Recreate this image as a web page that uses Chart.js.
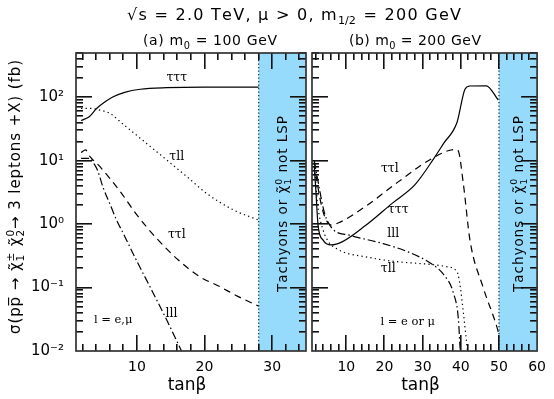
<!DOCTYPE html>
<html><head><meta charset="utf-8">
<script src="https://cdn.jsdelivr.net/npm/chart.js@4.4.0/dist/chart.umd.min.js"></script>
<style>
html,body{margin:0;padding:0;background:#fff;}
#wrap{position:relative;width:554px;height:399px;background:#fff;}
canvas{position:absolute;left:0;top:0;}
</style></head><body>
<div id="wrap"><canvas id="ca" width="554" height="399"></canvas><canvas id="cb" width="554" height="399"></canvas></div>
<script>
// ---- axes / ticks ----
const yTicks = [0.01, 0.1, 1, 10, 100];
const yTickLabels = ['10\u207B\u00B2', '10\u207B\u00B9', '10\u2070', '10\u00B9', '10\u00B2'];
const yRange = [0.01, 500];
const xRangeA = [1, 35];
const xRangeB = [1, 60];
const xTicksA = [10, 20, 30];
const xTicksB = [10, 20, 30, 40, 50, 60];
const xMinorStep = 2;
const forbiddenA = [28, 35];
const forbiddenB = [50, 60];

// ---- panel (a) m0 = 100 GeV ----
const tttA_x = [1.75, 3, 4, 5.3, 6.5, 8.2, 10.5, 14.4, 20, 28];
const tttA_y = [43, 50, 66, 85, 102, 120, 134, 142, 145, 145];
const tllA_x = [1.75, 3, 4.5, 6, 8, 10, 12, 14.4, 17.4, 20.3, 24.3, 28];
const tllA_y = [67, 67, 63, 56, 37.4, 25, 16.7, 10.3, 5.6, 3.06, 1.67, 1.16];
const ttlA_x = [1.75, 2.4, 3.07, 4.55, 7.5, 10, 12.9, 16, 19.3, 22, 25, 28];
const ttlA_y = [13.5, 14.8, 11.6, 8.05, 3.3, 1.4, 0.6, 0.28, 0.148, 0.107, 0.072, 0.051];
const lllA_x = [1.75, 3.1, 3.6, 4.2, 5, 6, 7, 8, 10, 12, 14.4, 16.7];
const lllA_y = [10.9, 10.9, 9.2, 7.0, 3.8, 2.1, 1.16, 0.71, 0.26, 0.1, 0.031, 0.0095];

// ---- panel (b) m0 = 200 GeV ----
const tttB_x = [1.6, 2.0, 2.6, 3.9, 6, 9, 15, 22, 28, 33, 35.5, 39, 41.1, 42.4, 46.7, 49.8];
const tttB_y = [8, 3.5, 0.95, 0.56, 0.47, 0.53, 0.95, 2.13, 4.2, 11, 18.8, 40, 134, 151, 152, 91];
const tllB_x = [1.6, 2.5, 3.9, 5.6, 7.3, 10, 15, 19.3, 23.6, 28.7, 32, 36, 38.6, 39.3, 39.9, 40.7, 41.8];
const tllB_y = [9, 2.0, 0.81, 0.5, 0.416, 0.35, 0.306, 0.275, 0.255, 0.241, 0.232, 0.215, 0.19, 0.16, 0.1, 0.039, 0.0095];
const ttlB_x = [1.6, 2.5, 4, 6, 8, 15, 23.5, 32.5, 38.6, 39.3, 40.7, 42.4, 45.8, 49.7, 50];
const ttlB_y = [9.5, 4, 1.5, 0.97, 1.05, 1.9, 4.6, 10.9, 15.1, 14.5, 4.2, 0.56, 0.103, 0.0214, 0.018];
const lllB_x = [1.6, 2.6, 4.3, 6.5, 10.75, 19.3, 26.1, 32.1, 35.6, 38.1, 39.4, 39.8, 40];
const lllB_y = [10, 4.67, 1.48, 0.83, 0.67, 0.5, 0.367, 0.241, 0.158, 0.081, 0.0306, 0.0115, 0.009];

// ---- curve labels (data coords) ----
const labelsA = [['τττ', 15.9, 200], ['τll', 15.9, 11.6], ['ττl', 15.9, 0.67], ['lll', 15.1, 0.039]];
const labelsB = [['ττl', 21.4, 7.6], ['τττ', 23.6, 1.67], ['lll', 22.3, 0.716], ['τll', 21.0, 0.2]];
const noteA = ['l = e,μ', 6.5, 0.031];
const noteB = ['l = e or μ', 26.1, 0.029];

const SANS = "'DejaVu Sans', sans-serif";
const SERIF = "'DejaVu Serif', serif";

function units(str) { return str.match(/\P{M}\p{M}*/gu) || []; }
// rich text centred at x (baseline y), optionally stretched to a target width
function drawRich(ctx, segs, x, y, size, fam, targetW) {
  const items = [];
  for (const s of segs) {
    if (s.t !== undefined) {
      const f = size + 'px ' + fam;
      ctx.font = f;
      for (const u of units(s.t)) items.push({ u, f, w: ctx.measureText(u).width });
    } else {
      const f = (size * 0.7) + 'px ' + fam;
      ctx.font = f;
      const wa = s.sub ? ctx.measureText(s.sub).width : 0;
      const wb = s.sup ? ctx.measureText(s.sup).width : 0;
      items.push({ sub: s.sub, sup: s.sup, f, w: Math.max(wa, wb) });
    }
  }
  const nat = items.reduce((a, b) => a + b.w, 0);
  const ls = targetW ? (targetW - nat) / Math.max(1, items.length - 1) : 0;
  let cx = x - (nat + ls * (items.length - 1)) / 2;
  ctx.textAlign = 'left'; ctx.textBaseline = 'alphabetic';
  for (const it of items) {
    ctx.font = it.f;
    if (it.u !== undefined) ctx.fillText(it.u, cx, y);
    else {
      if (it.sub) ctx.fillText(it.sub, cx, y + size * 0.28);
      if (it.sup) ctx.fillText(it.sup, cx, y - size * 0.42);
    }
    cx += it.w + ls;
  }
}

function makeDeco(cfg) {
  return {
    id: 'deco' + cfg.name,
    beforeDatasetsDraw(chart) {
      const ctx = chart.ctx, a = chart.chartArea, sx = chart.scales.x;
      const x0 = sx.getPixelForValue(cfg.forb[0]), x1 = sx.getPixelForValue(cfg.forb[1]);
      ctx.save();
      ctx.fillStyle = '#97dbfc';
      ctx.fillRect(x0, a.top, x1 - x0, a.bottom - a.top);
      ctx.restore();
    },
    afterDraw(chart) {
      const ctx = chart.ctx, a = chart.chartArea, sx = chart.scales.x, sy = chart.scales.y;
      ctx.save();
      ctx.globalAlpha = 1;
      // dotted boundary of forbidden region
      const xb = sx.getPixelForValue(cfg.forb[0]);
      ctx.strokeStyle = '#333'; ctx.lineWidth = 1.3; ctx.setLineDash([1.3, 2.2]);
      ctx.beginPath(); ctx.moveTo(xb, a.top); ctx.lineTo(xb, a.bottom); ctx.stroke();
      ctx.setLineDash([]);
      // inward ticks on all four sides
      ctx.fillStyle = '#111';
      const xt = [];
      for (let v = xMinorStep; v < cfg.xr[1]; v += xMinorStep) xt.push(v);
      xt.forEach(v => {
        const px = Math.round(sx.getPixelForValue(v));
        const L = (v % 10 === 0) ? 16 : 7;
        ctx.fillRect(px - 1, a.bottom - L, 1.6, L);
        ctx.fillRect(px - 1, a.top, 1.6, L);
      });
      const yt = [];
      [0.01, 0.1, 1, 10, 100].forEach(d => { for (let k = 1; k <= 9; k++) { const v = k * d; if (v > yRange[0] && v <= yRange[1]) yt.push([v, k === 1]); } });
      yt.forEach(([v, major]) => {
        const py = Math.round(sy.getPixelForValue(v));
        const L = major ? 16 : 7;
        ctx.fillRect(a.left, py - 1, L, 1.6);
        ctx.fillRect(a.right - L, py - 1, L, 1.6);
      });
      // frame
      ctx.strokeStyle = '#333'; ctx.lineWidth = 1.7;
      ctx.strokeRect(a.left, a.top, a.right - a.left, a.bottom - a.top);
      // curve labels
      ctx.fillStyle = '#000'; ctx.textAlign = 'center'; ctx.textBaseline = 'middle';
      ctx.font = '12.5px ' + SERIF;
      for (const [t, lx, ly] of cfg.labels) ctx.fillText(t, sx.getPixelForValue(lx), sy.getPixelForValue(ly));
      ctx.font = '11.5px ' + SERIF;
      ctx.fillText(cfg.note[0], sx.getPixelForValue(cfg.note[1]), sy.getPixelForValue(cfg.note[2]));
      // vertical text in the forbidden band
      const xc = (sx.getPixelForValue(cfg.forb[0]) + sx.getPixelForValue(cfg.forb[1])) / 2;
      const yc = (a.top + a.bottom) / 2 + 2;
      ctx.translate(xc, yc); ctx.rotate(-Math.PI / 2);
      drawRich(ctx, [{ t: 'Tachyons or χ\u0303' }, { sub: '1', sup: '0' }, { t: ' not LSP' }], 0, 5, 13.5, SANS, 176);
      ctx.restore();
      // axis title
      ctx.save(); ctx.fillStyle = '#000';
      drawRich(ctx, [{ t: 'tan\u03B2' }], (a.left + a.right) / 2 - 4, 390, 17, SANS);
      // global texts
      if (cfg.name === 'a') {
        drawRich(ctx, [{ t: '\u221As = 2.0 TeV, \u03BC > 0, m' }, { sub: '1/2' }, { t: ' = 200 GeV' }], 294, 20, 16, SANS, 334);
        drawRich(ctx, [{ t: '(a) m' }, { sub: '0' }, { t: ' = 100 GeV' }], 210, 45, 14, SANS, 134);
        drawRich(ctx, [{ t: '(b) m' }, { sub: '0' }, { t: ' = 200 GeV' }], 415, 45, 14, SANS, 132);
        ctx.translate(20, 197); ctx.rotate(-Math.PI / 2);
        drawRich(ctx, [{ t: '\u03C3(pp\u0305 \u2192 \u03C7\u0303' }, { sub: '1', sup: '\u00B1' }, { t: ' \u03C7\u0303' }, { sub: '2', sup: '0' }, { t: '\u2192 3 leptons +X) (fb)' }], 0, 0, 15, SANS, 274);
      }
      ctx.restore();
    }
  };
}

function ds(xs, ys, dash) {
  return { data: xs.map((v, i) => ({ x: v, y: ys[i] })), borderDash: dash, borderColor: '#000', borderWidth: 1.2,
    pointRadius: 0, fill: false, cubicInterpolationMode: 'monotone' };
}
const SOLID = [], DOT = [1.3, 3.2], DASH = [7, 5], DASHDOT = [8, 3, 1.5, 3];

function makeChart(id, cfg, datasets) {
  const left = cfg.name === 'a';
  return new Chart(document.getElementById(id), {
    type: 'line',
    data: { datasets },
    options: {
      responsive: false, animation: false, devicePixelRatio: 1,
      layout: { padding: left ? { left: 0, right: 248, top: 53, bottom: 0 } : { left: 312, right: 12, top: 53, bottom: 0 } },
      plugins: { legend: { display: false }, tooltip: { enabled: false }, title: { display: false } },
      scales: {
        x: {
          type: 'linear', min: cfg.xr[0], max: cfg.xr[1],
          grid: { display: false, drawTicks: false }, border: { display: false },
          afterBuildTicks: s => { s.ticks = cfg.xt.map(v => ({ value: v })); },
          afterFit: s => { s.height = 48; },
          ticks: { autoSkip: false, maxRotation: 0, padding: 8, color: '#000', font: { family: SANS, size: 14 }, callback: v => String(v) }
        },
        y: {
          type: 'logarithmic', min: yRange[0], max: yRange[1], display: left,
          grid: { display: false, drawTicks: false }, border: { display: false },
          afterBuildTicks: s => { s.ticks = yTicks.map(v => ({ value: v })); },
          afterFit: s => { s.width = left ? 76 : 0; },
          ticks: { autoSkip: false, padding: 12, color: '#000', font: { family: SANS, size: 15 },
            callback: v => { const i = yTicks.findIndex(t => Math.abs(Math.log10(t) - Math.log10(v)) < 1e-6); return i >= 0 ? yTickLabels[i] : ''; } }
        }
      }
    },
    plugins: [makeDeco(cfg)]
  });
}

makeChart('ca', { name: 'a', xr: xRangeA, xt: xTicksA, forb: forbiddenA, labels: labelsA, note: noteA }, [
  ds(tttA_x, tttA_y, SOLID), ds(tllA_x, tllA_y, DOT), ds(ttlA_x, ttlA_y, DASH), ds(lllA_x, lllA_y, DASHDOT)
]);
makeChart('cb', { name: 'b', xr: xRangeB, xt: xTicksB, forb: forbiddenB, labels: labelsB, note: noteB }, [
  ds(tttB_x, tttB_y, SOLID), ds(tllB_x, tllB_y, DOT), ds(ttlB_x, ttlB_y, DASH), ds(lllB_x, lllB_y, DASHDOT)
]);
</script>
</body></html>
